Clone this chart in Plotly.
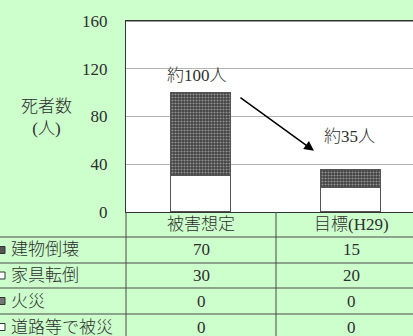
import plotly.graph_objects as go

# --- data ---------------------------------------------------------------
categories = ["被害想定", "目標(H29)"]
series_names = ["建物倒壊", "家具転倒", "火災", "道路等で被災"]
building_collapse = [70, 15]
furniture_fall = [30, 20]
fire = [0, 0]
road_damage = [0, 0]
y_ticks = [0, 40, 80, 120, 160]
total_labels = ["約100人", "約35人"]

table_values = [building_collapse, furniture_fall, fire, road_damage]

# --- layout geometry (pixels) ------------------------------------------
W, H = 413, 336
L, T, B = 126, 21, 212          # plot area left / top / bottom
CAT_W = 150                      # width of one category column
x_max = -0.5 + (W - L) / CAT_W   # plot extends past the right edge

def py(p):
    """pixel row -> paper y"""
    return (B - p) / (B - T)

def px(p):
    """pixel column -> paper x"""
    return (p - L) / (W - L)

FONT = "Liberation Serif, Noto Sans CJK JP, serif"
TXT = "#2e2e2e"
GREEN = "#ccffcc"
LINE = "#4a4a4a"

def light_cjk(text):
    """Wrap runs of CJK characters in a light-weight span."""
    out, run = [], ""
    for ch in text:
        if ord(ch) >= 0x2E80:
            run += ch
        else:
            if run:
                out.append(f"<span style='font-weight:300'>{run}</span>")
                run = ""
            out.append(ch)
    if run:
        out.append(f"<span style='font-weight:300'>{run}</span>")
    return "".join(out)

def label(text, **kw):
    base = dict(text=light_cjk(text), showarrow=False, xanchor="center",
                yanchor="middle", font=dict(size=17, color=TXT, family=FONT))
    base.update(kw)
    return base

xs = list(range(len(categories)))

fig = go.Figure()
fig.add_bar(x=xs, y=furniture_fall, name=series_names[1], width=0.4,
            marker=dict(color="white", line=dict(color="#555555", width=1)))
fig.add_bar(x=xs, y=building_collapse, name=series_names[0], width=0.4,
            marker=dict(color="#404040", line=dict(color="#555555", width=1),
                        pattern=dict(shape=".", fgcolor="#e6e6e6", bgcolor="#404040",
                                     size=3, solidity=0.4)))
fig.add_bar(x=xs, y=fire, name=series_names[2], width=0.4,
            marker=dict(color="#666666", line=dict(width=0)))
fig.add_bar(x=xs, y=road_damage, name=series_names[3], width=0.4,
            marker=dict(color="white", line=dict(width=0)))

shapes = []
annotations = []

# table row boundaries
rows = [212, 237, 263, 288, 314, 340]
for r in rows[1:-1]:
    shapes.append(dict(type="line", xref="paper", yref="paper",
                       x0=px(0), x1=px(W), y0=py(r), y1=py(r),
                       line=dict(color=LINE, width=1)))
# vertical table lines
for vx in [L, L + CAT_W]:
    shapes.append(dict(type="line", xref="paper", yref="paper",
                       x0=px(vx), x1=px(vx), y0=py(212), y1=py(340),
                       line=dict(color=LINE, width=1)))

# header row with category names
for i, c in enumerate(categories):
    annotations.append(label(c, x=i, xref="x", y=py((rows[0] + rows[1]) / 2),
                             yref="paper"))

# series rows: legend key, name and values
for k, name in enumerate(series_names):
    yc = (rows[k + 1] + rows[k + 2]) / 2
    annotations.append(label(name, x=px(9), xref="paper", y=py(yc), yref="paper",
                             xanchor="left"))
    key_fill = ["#555555", "white", "#777777", "white"][k]
    shapes.append(dict(type="rect", xref="paper", yref="paper",
                       x0=px(-2), x1=px(5), y0=py(yc - 3.5), y1=py(yc + 3.5),
                       fillcolor=key_fill, line=dict(color="#333333", width=1)))
    for i, v in enumerate(table_values[k]):
        annotations.append(label(str(v), x=i, xref="x", y=py(yc), yref="paper"))

# top border of the plot area
shapes.append(dict(type="line", xref="paper", yref="paper", x0=0, x1=1, y0=1, y1=1,
                   line=dict(color="#333333", width=1)))

# y-axis title
annotations.append(label("死者数<br>(人)", x=px(46), xref="paper", y=py(117),
                         yref="paper"))

# total labels and trend arrow
annotations.append(label(total_labels[0], x=-0.03, y=114, xref="x", yref="y"))
annotations.append(label(total_labels[1], x=0.99, y=63, xref="x", yref="y"))
annotations.append(dict(x=0.753, y=51.3, xref="x", yref="y",
                        ax=0.253, ay=96.7, axref="x", ayref="y",
                        text="", showarrow=True, arrowhead=2, arrowsize=1.3,
                        arrowwidth=1.5, arrowcolor="black", standoff=0))

fig.update_layout(
    width=W, height=H,
    margin=dict(l=L, r=0, t=T, b=H - B, pad=0),
    paper_bgcolor=GREEN, plot_bgcolor="white",
    barmode="stack", bargap=0, showlegend=False,
    font=dict(family=FONT, size=17, color=TXT),
    shapes=shapes, annotations=annotations,
    xaxis=dict(range=[-0.5, x_max], showticklabels=False, showgrid=False,
               zeroline=False, showline=True, mirror=True, linecolor="#333333",
               linewidth=1, ticks="", fixedrange=True),
    yaxis=dict(range=[0, 160], tickvals=y_ticks, showgrid=True,
               gridcolor="#b4b4b4", gridwidth=1, zeroline=False,
               showline=True, linecolor="#333333", linewidth=1, ticks="",
               ticklabelstandoff=14, tickfont=dict(size=17, color=TXT, family=FONT)),
)

fig.write_html("out.html")
